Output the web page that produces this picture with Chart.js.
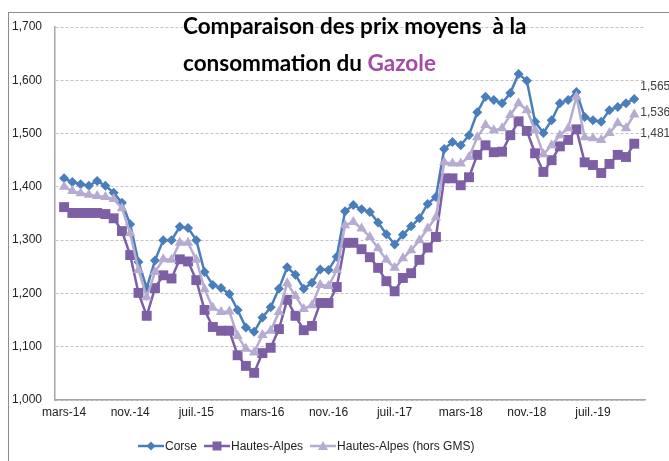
<!DOCTYPE html>
<html lang="fr">
<head>
<meta charset="utf-8">
<title>Comparaison des prix moyens - Gazole</title>
<script src="https://cdn.jsdelivr.net/npm/chart.js@4.4.1/dist/chart.umd.min.js"></script>
<style>
  body { margin: 0; background: #fff; }
  #wrap { position: relative; width: 669px; height: 461px; overflow: hidden; }
  #cadre { position: absolute; left: 8px; top: 12px; width: 700px; height: 500px; border: 1px solid #8a8a9e; box-sizing: border-box; }
  #titre {
    position: absolute; left: 183px; top: 7px;
    font-family: Lato, "Open Sans", sans-serif; font-weight: bold; font-size: 22.5px;
    line-height: 37px; color: #000; white-space: pre;
  }
  #titre .gaz { color: #a54aa8; }
  #legende {
    position: absolute; left: 138px; top: 439px; display: flex; align-items: center;
    font-family: "Liberation Sans", Arial, sans-serif; font-size: 12px; color: #222;
  }
  #legende span.item { display: flex; align-items: center; margin-right: 7px; }
  #legende canvas { position: static; margin-right: 1px; }
  canvas { position: absolute; left: 0; top: 0; }
</style>
</head>
<body>
<div id="wrap">
  <div id="cadre"></div>
  <canvas id="gazoleChart" width="669" height="461"></canvas>
  <div id="titre">Comparaison des prix moyens  à la
consommation du <span class="gaz">Gazole</span></div>
  <div id="legende"></div>
</div>
<script>
// mois (mars-14 -> déc.-19)
const mois = [
  'mars-14', 'avr.-14', 'mai-14', 'juin-14', 'juil.-14', 'août-14', 'sept.-14', 'oct.-14', 'nov.-14', 'déc.-14',
  'janv.-15', 'févr.-15', 'mars-15', 'avr.-15', 'mai-15', 'juin-15', 'juil.-15', 'août-15', 'sept.-15', 'oct.-15', 'nov.-15', 'déc.-15',
  'janv.-16', 'févr.-16', 'mars-16', 'avr.-16', 'mai-16', 'juin-16', 'juil.-16', 'août-16', 'sept.-16', 'oct.-16', 'nov.-16', 'déc.-16',
  'janv.-17', 'févr.-17', 'mars-17', 'avr.-17', 'mai-17', 'juin-17', 'juil.-17', 'août-17', 'sept.-17', 'oct.-17', 'nov.-17', 'déc.-17',
  'janv.-18', 'févr.-18', 'mars-18', 'avr.-18', 'mai-18', 'juin-18', 'juil.-18', 'août-18', 'sept.-18', 'oct.-18', 'nov.-18', 'déc.-18',
  'janv.-19', 'févr.-19', 'mars-19', 'avr.-19', 'mai-19', 'juin-19', 'juil.-19', 'août-19', 'sept.-19', 'oct.-19', 'nov.-19', 'déc.-19'
];

// prix moyens (€/L)
const corse = [
  1.416, 1.409, 1.405, 1.402, 1.411, 1.402, 1.389, 1.370, 1.330, 1.259,
  1.210, 1.262, 1.300, 1.300, 1.325, 1.323, 1.300, 1.240, 1.216, 1.210, 1.199, 1.169,
  1.136, 1.128, 1.155, 1.174, 1.209, 1.249, 1.235, 1.209, 1.220, 1.245, 1.244, 1.269,
  1.354, 1.366, 1.358, 1.353, 1.333, 1.311, 1.292, 1.310, 1.326, 1.341, 1.368, 1.381,
  1.471, 1.484, 1.478, 1.497, 1.540, 1.569, 1.563, 1.557, 1.576, 1.612, 1.599, 1.522,
  1.501, 1.525, 1.557, 1.563, 1.578, 1.531, 1.525, 1.522, 1.544, 1.550, 1.557, 1.565
];
const hautesAlpes = [
  1.362, 1.351, 1.351, 1.351, 1.351, 1.349, 1.341, 1.317, 1.272, 1.201,
  1.158, 1.210, 1.234, 1.228, 1.264, 1.260, 1.225, 1.169, 1.137, 1.130, 1.130, 1.084,
  1.064, 1.051, 1.088, 1.098, 1.133, 1.188, 1.158, 1.131, 1.139, 1.182, 1.182, 1.212,
  1.295, 1.295, 1.283, 1.268, 1.248, 1.223, 1.204, 1.229, 1.238, 1.263, 1.286, 1.306,
  1.416, 1.416, 1.403, 1.418, 1.460, 1.478, 1.465, 1.466, 1.497, 1.523, 1.505, 1.463,
  1.428, 1.450, 1.476, 1.488, 1.508, 1.446, 1.441, 1.426, 1.443, 1.460, 1.456, 1.481
];
const hautesAlpesHorsGMS = [
  1.400, 1.392, 1.388, 1.385, 1.383, 1.381, 1.377, 1.360, 1.313, 1.244,
  1.193, 1.240, 1.264, 1.263, 1.295, 1.295, 1.263, 1.208, 1.173, 1.165, 1.166, 1.120,
  1.096, 1.089, 1.122, 1.130, 1.165, 1.219, 1.195, 1.171, 1.178, 1.216, 1.214, 1.244,
  1.328, 1.334, 1.322, 1.306, 1.285, 1.263, 1.248, 1.266, 1.281, 1.300, 1.322, 1.343,
  1.446, 1.444, 1.444, 1.456, 1.493, 1.516, 1.506, 1.510, 1.535, 1.557, 1.544, 1.506,
  1.461, 1.478, 1.497, 1.510, 1.569, 1.493, 1.491, 1.488, 1.501, 1.520, 1.510, 1.536
];

const couleurs = ['#4a7ebb', '#7d5fa6', '#b6abd0'];
const formes = ['diamond', 'square', 'triangle'];
const noms = ['Corse', 'Hautes-Alpes', 'Hautes-Alpes (hors GMS)'];

// format français : 1,565
const formatPrix = v => v.toFixed(3).replace('.', ',');

// icône "ligne + marqueur" façon Excel pour la légende
function iconeLegende(couleur, forme) {
  const c = document.createElement('canvas');
  c.width = 26; c.height = 12;
  const g = c.getContext('2d');
  g.strokeStyle = couleur; g.lineWidth = 2.5;
  g.beginPath(); g.moveTo(0, 6); g.lineTo(26, 6); g.stroke();
  g.fillStyle = couleur;
  g.beginPath();
  if (forme === 'diamond') { g.moveTo(13, 1.5); g.lineTo(17.5, 6); g.lineTo(13, 10.5); g.lineTo(8.5, 6); }
  else if (forme === 'square') { g.rect(8.5, 1.5, 9, 9); }
  else { g.moveTo(13, 1); g.lineTo(18, 10); g.lineTo(8, 10); }
  g.closePath(); g.fill();
  return c;
}
const legende = document.getElementById('legende');
noms.forEach((nom, i) => {
  const item = document.createElement('span');
  item.className = 'item';
  item.appendChild(iconeLegende(couleurs[i], formes[i]));
  item.appendChild(document.createTextNode(nom));
  legende.appendChild(item);
});

// étiquettes de la dernière valeur
const etiquettesFin = {
  id: 'etiquettesFin',
  afterDatasetsDraw(chart) {
    const ctx = chart.ctx;
    const decalages = [-12, -10, -2];
    ctx.save();
    ctx.font = '12px "Liberation Sans", Arial, sans-serif';
    ctx.fillStyle = '#404040';
    ctx.textBaseline = 'middle';
    chart.data.datasets.forEach((ds, i) => {
      const meta = chart.getDatasetMeta(i);
      const pt = meta.data[meta.data.length - 1];
      ctx.fillText(formatPrix(ds.data[ds.data.length - 1].y), pt.x + 6, pt.y + decalages[i]);
    });
    ctx.restore();
  }
};

const enPoints = serie => serie.map((v, i) => ({ x: i, y: v }));

const ctx = document.getElementById('gazoleChart').getContext('2d');
const gazoleChart = new Chart(ctx, {
  type: 'line',
  data: {
    datasets: [{
      label: noms[0],
      data: enPoints(corse),
      borderColor: couleurs[0],
      backgroundColor: couleurs[0],
      pointStyle: 'rectRot',
      pointRadius: 5,
      order: 2
    }, {
      label: noms[1],
      data: enPoints(hautesAlpes),
      borderColor: couleurs[1],
      backgroundColor: couleurs[1],
      pointStyle: 'rect',
      pointRadius: 7,
      order: 1
    }, {
      label: noms[2],
      data: enPoints(hautesAlpesHorsGMS),
      borderColor: couleurs[2],
      backgroundColor: couleurs[2],
      pointStyle: 'triangle',
      pointRadius: 6,
      order: 0
    }]
  },
  options: {
    responsive: false,
    animation: false,
    layout: { padding: { top: 27, right: 24, bottom: 37, left: 0 } },
    elements: {
      line: { borderWidth: 2.5, tension: 0 },
      point: { borderWidth: 0 }
    },
    scales: {
      x: {
        type: 'linear',
        min: -1.1,
        max: 70.3,
        grid: { display: false, drawTicks: false },
        border: { color: '#a6a6a6', width: 1.5 },
        afterBuildTicks: s => {
          s.ticks = mois.map((m, i) => ({ value: i })).filter(t => t.value % 8 === 0);
        },
        ticks: {
          autoSkip: false,
          maxRotation: 0,
          padding: 5,
          color: '#222',
          font: { family: '"Liberation Sans", Arial, sans-serif', size: 12 },
          callback: v => mois[v]
        },
        afterFit: s => { s.height = 24; }
      },
      y: {
        min: 1.0,
        max: 1.7,
        grid: { color: '#c4c4c4', drawTicks: false },
        border: { color: '#a6a6a6', width: 1.5, dash: [3, 2] },
        ticks: {
          stepSize: 0.1,
          padding: 13,
          color: '#222',
          font: { family: '"Liberation Sans", Arial, sans-serif', size: 12 },
          callback: v => formatPrix(v)
        },
        afterFit: s => { s.width = 55; }
      }
    },
    plugins: {
      legend: { display: false },
      tooltip: { enabled: false }
    }
  },
  plugins: [etiquettesFin]
});
</script>
</body>
</html>
